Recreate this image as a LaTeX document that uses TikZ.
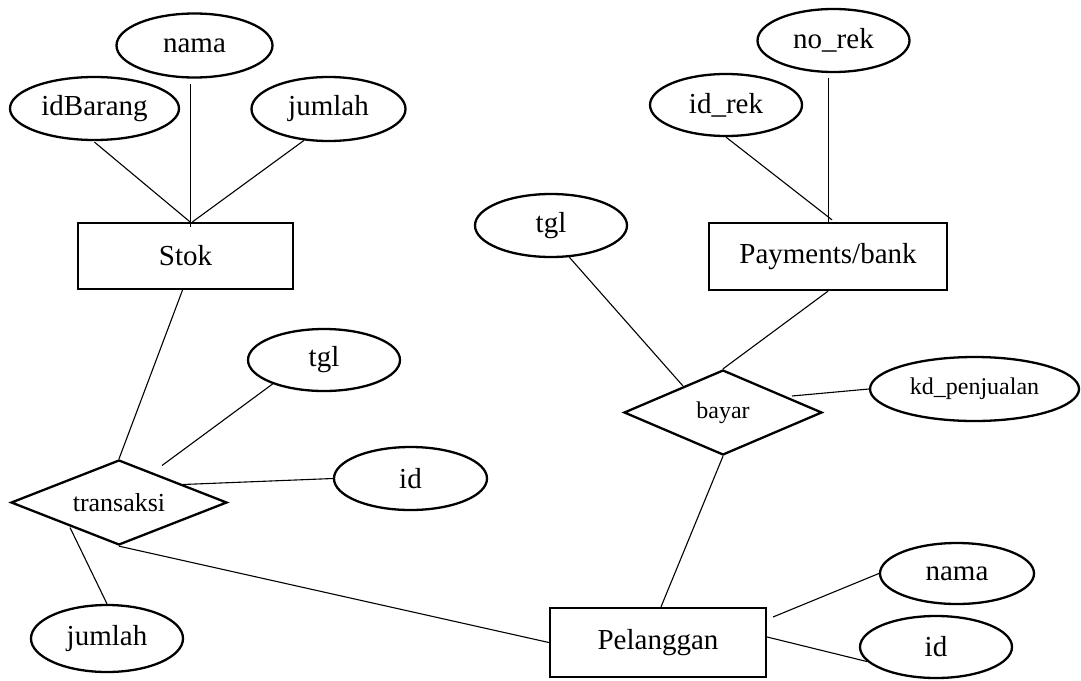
\documentclass[tikz,border=0pt]{standalone}
\usepackage{fontspec}
\setmainfont{Liberation Serif}
\usetikzlibrary{shapes.geometric}
\begin{document}
\begin{tikzpicture}[x=1pt,y=-1pt,
  attr/.style={ellipse,draw,line width=2.3pt,inner sep=0pt,font=\fontsize{29}{34}\selectfont},
  ent/.style={rectangle,draw,line width=2.3pt,inner sep=0pt,font=\fontsize{29}{34}\selectfont},
  rel/.style={diamond,draw,line width=2.3pt,inner sep=0pt,shape aspect=2.5},
  conn/.style={line width=1.1pt}]
\useasboundingbox (0,0) rectangle (1081,680);
% Stok group
\node[attr,minimum width=156pt,minimum height=64pt] (nama1) at (194.5,45.5) {nama};
\node[attr,minimum width=169pt,minimum height=63pt] (idb) at (94.5,108.5) {idBarang};
\node[attr,minimum width=154pt,minimum height=64pt] (jum1) at (328.5,109) {jumlah};
\node[ent,minimum width=215pt,minimum height=66pt] (stok) at (185.5,256) {Stok};
% Payments group
\node[attr,minimum width=152pt,minimum height=63pt] (norek) at (833.5,40.5) {no\_rek};
\node[attr,minimum width=152pt,minimum height=62pt] (idrek) at (726,105) {id\_rek};
\node[attr,minimum width=152pt,minimum height=63pt] (tgl2) at (551,225.5) {tgl};
\node[ent,minimum width=238pt,minimum height=67pt] (pay) at (828,256.5) {Payments/bank};
% transaksi group
\node[attr,minimum width=152pt,minimum height=62pt] (tgl1) at (324,360) {tgl};
\node[attr,minimum width=153pt,minimum height=63pt] (id1) at (410.5,478.5) {id};
\node[rel,minimum width=216pt,minimum height=85pt,font=\fontsize{26}{31}\selectfont] (tr) at (119,502.5) {transaksi};
\node[attr,minimum width=152pt,minimum height=67pt] (jum2) at (107,638.5) {jumlah};
% bayar group
\node[rel,minimum width=198pt,minimum height=85pt,font=\fontsize{24}{29}\selectfont] (bayar) at (723,412.5) {bayar};
\node[attr,minimum width=209pt,minimum height=64pt,font=\fontsize{24}{29}\selectfont] (kd) at (974.5,389) {kd\_penjualan};
\node[attr,minimum width=154pt,minimum height=61pt] (nama2) at (957,573.5) {nama};
\node[attr,minimum width=152pt,minimum height=62pt] (id2) at (936,647) {id};
\node[ent,minimum width=216pt,minimum height=69pt] (pel) at (658,642.5) {Pelanggan};
% connectors
\draw[conn] ([yshift=-1pt]idb.south) -- ([xshift=4.5pt]stok.north);
\draw[conn] ([xshift=-4pt,yshift=-5pt]nama1.south) -- ([xshift=5pt,yshift=-5pt]stok.north);
\draw[conn] (jum1.232) -- ([xshift=7pt]stok.north);
\draw[conn] ([xshift=-3pt]stok.south) -- (tr.north);
\draw[conn] (tgl1.205) -- ([shift={(43pt,37pt)}]tr.center);
\draw[conn] ([shift={(64pt,18pt)}]tr.center) -- (id1.west);
\draw[conn] ([shift={(-49pt,-25pt)}]tr.center) -- (jum2.north);
\draw[conn] (tr.south) -- (pel.west);
\draw[conn] (tgl2.300) -- ([shift={(-40pt,26.5pt)}]bayar.center);
\draw[conn] (pay.south) -- (bayar.north);
\draw[conn] ([shift={(69pt,16.5pt)}]bayar.center) -- (kd.west);
\draw[conn] (bayar.south) -- ([xshift=3pt]pel.north);
\draw[conn] ([shift={(115pt,25.5pt)}]pel.center) -- (nama2.west);
\draw[conn] ([yshift=5.5pt]pel.east) -- (id2.192);
\draw[conn] (idrek.south) -- ([xshift=4pt,yshift=2pt]pay.north);
\draw[conn] ([xshift=-5pt,yshift=-5pt]norek.south) -- ([xshift=-5pt]norek.south |- pay.north);
\end{tikzpicture}
\end{document}
